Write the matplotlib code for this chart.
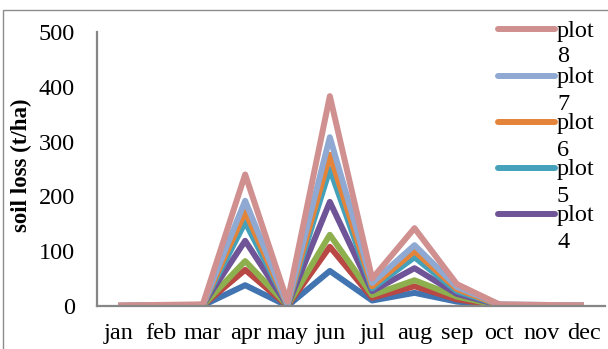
import matplotlib
matplotlib.use("Agg")
import matplotlib.pyplot as plt
from matplotlib.lines import Line2D
from matplotlib.patches import Rectangle

months = ["jan", "feb", "mar", "apr", "may", "jun",
          "jul", "aug", "sep", "oct", "nov", "dec"]

# soil loss per plot (t/ha), one value per month
plot1 = [0, 0, 1, 38, 0, 64, 10, 24, 8, 1, 0, 0]
plot2 = [0, 0, 1, 66, 0, 108, 15, 36, 12, 1, 0, 0]
plot3 = [0, 1, 1, 82, 1, 130, 20, 47, 17, 1, 1, 0]
plot4 = [0, 1, 2, 119, 1, 190, 27, 69, 22, 2, 1, 0]
plot5 = [0, 1, 2, 153, 2, 250, 32, 89, 27, 2, 1, 1]
plot6 = [0, 1, 2, 172, 2, 276, 36, 100, 31, 2, 1, 1]
plot7 = [1, 1, 2, 192, 3, 308, 42, 111, 35, 3, 2, 1]
plot8 = [1, 2, 3, 240, 8, 383, 50, 142, 40, 3, 2, 1]

series = [plot1, plot2, plot3, plot4, plot5, plot6, plot7, plot8]
names = ["plot 1", "plot 2", "plot 3", "plot 4",
         "plot 5", "plot 6", "plot 7", "plot 8"]
colors = ["#4174b0", "#b94744", "#8daf4e", "#6f5597",
          "#45a1ba", "#e4843b", "#8fa9d2", "#d09090"]

plt.rcParams["font.family"] = ["Liberation Serif", "DejaVu Serif"]

W, H = 608, 349
fig = plt.figure(figsize=(W / 100, H / 100), dpi=100)

# chart area border
fig.patches.append(Rectangle((3 / W, -0.1), 1.2, 1.1 - 10 / H,
                             transform=fig.transFigure, fill=False,
                             edgecolor="#8c8c8c", linewidth=1.0))

ax = fig.add_axes([97 / W, (H - 306) / H, 508 / W, 274 / H])
x = list(range(len(months)))
for vals, c in zip(series, colors):
    ax.plot(x, vals, color=c, linewidth=4.3, solid_joinstyle="round",
            solid_capstyle="butt")

ax.set_xlim(-0.5, 11.5)
ax.set_ylim(0, 500)
ax.set_yticks([0, 100, 200, 300, 400, 500])
ax.set_xticks(x)
ax.set_xticklabels(months)
ax.tick_params(axis="both", length=0, labelsize=17.5)
ax.tick_params(axis="y", pad=16)
ax.tick_params(axis="x", pad=12)
for s in ["top", "right"]:
    ax.spines[s].set_visible(False)
for s in ["left", "bottom"]:
    ax.spines[s].set_color("#868686")
    ax.spines[s].set_linewidth(1.6)

ax.set_ylabel("soil loss (t/ha)", fontsize=16.5, fontweight="bold")
ax.yaxis.set_label_coords(-0.128, 0.515)

# legend column at the right, only the top entries fit
def px(xp, yp):
    return xp / W, (H - yp) / H

rows = [29, 76, 122, 168, 214]
for row, idx in zip(rows, [7, 6, 5, 4, 3]):
    x0, y0 = px(498, row)
    x1, _ = px(555, row)
    fig.add_artist(Line2D([x0, x1], [y0, y0], color=colors[idx],
                          linewidth=4.3, solid_capstyle="round",
                          transform=fig.transFigure))
    word, num = names[idx].split()
    tx, ty = px(557, row + 2)
    fig.text(tx, ty, word, fontsize=17.5, va="center", ha="left")
    tx, ty = px(557, row + 28)
    fig.text(tx, ty, num, fontsize=17.5, va="center", ha="left")

fig.savefig("out.png", dpi=100)
